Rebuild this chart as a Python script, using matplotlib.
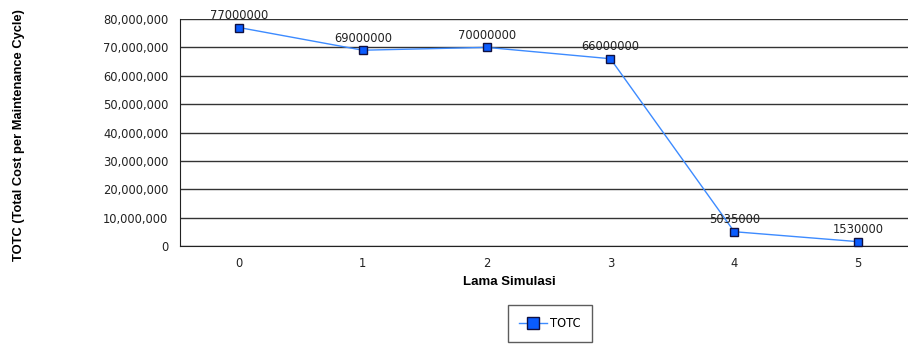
import matplotlib
matplotlib.use("Agg")
import matplotlib.pyplot as plt
from matplotlib.ticker import FuncFormatter

categories = ["0", "1", "2", "3", "4", "5"]
totc = [77000000, 69000000, 70000000, 66000000, 5035000, 1530000]
yticks = [0, 10000000, 20000000, 30000000, 40000000, 50000000, 60000000, 70000000, 80000000]

plt.rcParams['font.family'] = ['DejaVu Sans']

fig = plt.figure(figsize=(9.08, 3.44), dpi=100)
W, H = 908, 344
left, right, top, bottom = 180, 920, 19, 246
ax = fig.add_axes([left / W, 1 - bottom / H, (right - left) / W, (bottom - top) / H])

x = list(range(len(categories)))
line, = ax.plot(x, totc, color='#3d8bff', lw=1, marker='s', markersize=5.5,
                markerfacecolor='#0a5cff', markeredgecolor='#101040', markeredgewidth=1,
                label='TOTC', clip_on=False, zorder=3)
for xi, v in zip(x, totc):
    ax.annotate(str(v), (xi, v), xytext=(0, 4), textcoords='offset points',
                ha='center', va='bottom', fontsize=8.3, color='#222222')

ax.set_xlim(-59 / 124, 5.5)
ax.set_ylim(0, 80000000)
ax.set_yticks(yticks)
ax.yaxis.set_major_formatter(FuncFormatter(lambda v, p: f"{int(v):,}"))
ax.set_xticks(x)
ax.set_xticklabels(categories)
ax.tick_params(axis='both', length=0, labelsize=8.3, colors='#222222')
ax.tick_params(axis='y', pad=8.5)
ax.tick_params(axis='x', pad=8)
ax.grid(axis='y', color='#333333', lw=1)
ax.set_axisbelow(True)
for s in ['top', 'right']:
    ax.spines[s].set_visible(False)
ax.spines['left'].set_color('#222222')
ax.spines['bottom'].set_color('#222222')

fig.text(509 / W, 1 - 282 / H, 'Lama Simulasi', ha='center', va='center',
         fontsize=9.5, fontweight='bold', family='Liberation Sans')
fig.text(19 / W, 1 - 135.5 / H, 'TOTC (Total Cost per Maintenance Cycle)', ha='center',
         va='center', rotation=90, fontsize=9.3, fontweight='bold', family='Liberation Sans')

leg = fig.legend(handles=[line], loc='center', bbox_to_anchor=(550 / W, 1 - 323.5 / H),
                 fontsize=8.3, frameon=True, fancybox=False, edgecolor='#333333',
                 handlelength=2.4, handletextpad=0.3, borderpad=1.0, borderaxespad=0,
                 markerscale=1.5)
leg.get_frame().set_linewidth(1)

fig.savefig('out.png', dpi=100)
